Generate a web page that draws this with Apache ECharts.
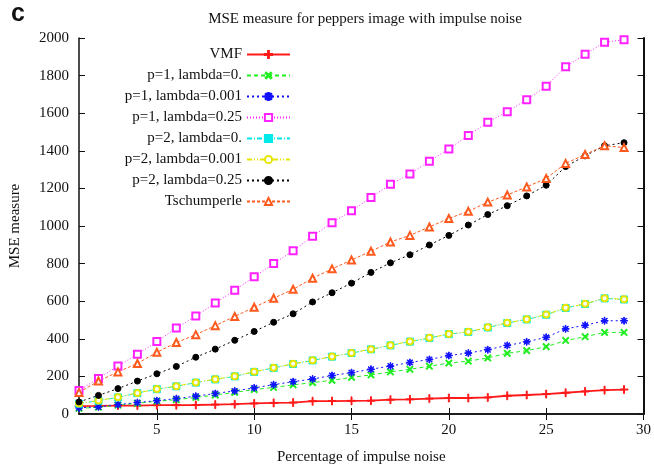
<!DOCTYPE html>
<html>
<head>
<meta charset="utf-8">
<script src="https://cdn.jsdelivr.net/npm/echarts@6/dist/echarts.min.js"></script>
<style>
  html, body { margin: 0; padding: 0; background: #fff; }
  #chart { width: 654px; height: 470px; }
</style>
</head>
<body>
<div id="chart"></div>
<script>
// noise percentage (x)
const noise = [1, 2, 3, 4, 5, 6, 7, 8, 9, 10, 11, 12, 13, 14, 15, 16, 17, 18, 19, 20, 21, 22, 23, 24, 25, 26, 27, 28, 29];
const xTicks = [5, 10, 15, 20, 25, 30];

// MSE values
const vmf = [42, 43, 45, 45, 47, 47, 48, 50, 52, 56, 59, 61, 68, 69, 70, 71, 76, 78, 82, 85, 85, 88, 97, 101, 106, 113, 120, 127, 130];
const p1l0 = [30, 36, 47, 57, 68, 76, 88, 101, 115, 130, 141, 155, 167, 179, 195, 208, 224, 238, 254, 271, 281, 298, 323, 337, 358, 391, 411, 434, 434];
const p1l001 = [33, 38, 50, 61, 71, 82, 95, 109, 123, 139, 156, 172, 186, 205, 220, 238, 255, 274, 290, 311, 324, 342, 365, 384, 408, 453, 472, 496, 496];
const p1l025 = [125, 189, 255, 318, 385, 457, 521, 590, 658, 730, 800, 868, 946, 1017, 1081, 1151, 1222, 1276, 1345, 1410, 1482, 1552, 1608, 1672, 1743, 1847, 1913, 1977, 1991];
const p2l0 = [55, 71, 88, 111, 132, 147, 167, 184, 200, 224, 245, 266, 285, 305, 324, 344, 365, 385, 404, 425, 436, 460, 484, 503, 528, 564, 585, 615, 609];
const p2l001 = [56, 72, 89, 112, 133, 148, 168, 185, 201, 225, 246, 267, 286, 306, 325, 345, 366, 386, 405, 426, 437, 461, 485, 504, 529, 565, 586, 616, 610];
const p2l025 = [64, 99, 135, 175, 214, 253, 302, 345, 392, 439, 488, 533, 596, 645, 696, 753, 804, 847, 899, 950, 1005, 1061, 1108, 1160, 1217, 1316, 1373, 1427, 1443];
const tschumperle = [115, 175, 224, 269, 328, 380, 422, 470, 519, 568, 616, 663, 722, 772, 819, 866, 915, 950, 995, 1040, 1078, 1127, 1165, 1208, 1253, 1333, 1380, 1427, 1417];

const font = 'Liberation Serif';
const plus = 'path://M4.4,0H5.6V4.4H10V5.6H5.6V10H4.4V5.6H0V4.4H4.4Z';
const star = 'path://M4.5,0H5.5V10H4.5Z M0,4.5H10V5.5H0Z M1,1.7L1.7,1L9,8.3L8.3,9Z M1,8.3L8.3,1L9,1.7L1.7,9Z';

function pairs(vals) {
  return vals.map((v, i) => [noise[i], v]);
}

function line(name, vals, color, type, symbol, size, width, rotate) {
  return {
    name: name,
    type: 'line',
    data: pairs(vals),
    symbol: symbol,
    symbolSize: size,
    symbolRotate: rotate || 0,
    showAllSymbol: true,
    animation: false,
    lineStyle: { color: color, width: width || 1, type: type },
    itemStyle: { color: color, borderColor: color, borderWidth: 1 }
  };
}

const chart = echarts.init(document.getElementById('chart'));
chart.setOption({
  backgroundColor: '#fff',
  title: [
    {
      text: 'MSE measure for peppers image with impulse noise',
      left: 360, top: 7, textAlign: 'center',
      textStyle: { fontFamily: font, fontSize: 15, fontWeight: 'normal', color: '#111' }
    },
    {
      text: 'c',
      left: 6, top: -3,
      textStyle: { fontFamily: 'Liberation Sans', fontSize: 25, fontWeight: 'bold', color: '#111' }
    }
  ],
  legend: {
    orient: 'vertical',
    align: 'right',
    right: 363,
    top: 47,
    padding: 0,
    itemWidth: 43,
    itemHeight: 9,
    itemGap: 6,
    textStyle: { fontFamily: font, fontSize: 15, color: '#111' }
  },
  grid: { left: 77, right: 10, top: 38, bottom: 47, show: false },
  xAxis: [
    {
      type: 'value', min: 1, max: 30,
      name: 'Percentage of impulse noise',
      nameLocation: 'middle', nameGap: 36,
      nameTextStyle: { fontFamily: font, fontSize: 15, color: '#111' },
      axisLine: { lineStyle: { color: '#111', width: 1.5 } },
      axisTick: { inside: true, length: 6, customValues: xTicks, lineStyle: { color: '#111' } },
      axisLabel: { customValues: xTicks, fontFamily: font, fontSize: 15, color: '#111', margin: 9 },
      splitLine: { show: false }
    },
    {
      type: 'value', min: 1, max: 30, position: 'top',
      axisLine: { lineStyle: { color: '#111', width: 1.5 } },
      axisTick: { inside: true, length: 6, customValues: xTicks, lineStyle: { color: '#111' } },
      axisLabel: { show: false },
      splitLine: { show: false }
    }
  ],
  yAxis: [
    {
      type: 'value', min: 0, max: 2000, interval: 200,
      name: 'MSE measure',
      nameLocation: 'middle', nameGap: 56,
      nameTextStyle: { fontFamily: font, fontSize: 15, color: '#111' },
      axisLine: { show: true, lineStyle: { color: '#111', width: 1.5 } },
      axisTick: { inside: true, length: 6, lineStyle: { color: '#111' } },
      axisLabel: { fontFamily: font, fontSize: 15, color: '#111', margin: 10, formatter: v => String(v) },
      splitLine: { show: false }
    },
    {
      type: 'value', min: 0, max: 2000, interval: 200, position: 'right',
      axisLine: { show: true, lineStyle: { color: '#111', width: 2 } },
      axisTick: { inside: true, length: 6, lineStyle: { color: '#111' } },
      axisLabel: { show: false },
      splitLine: { show: false }
    }
  ],
  series: [
    line('VMF', vmf, '#ff1a1a', 'solid', plus, 8, 1.8),
    line('p=1, lambda=0.', p1l0, '#22ee22', [4, 3], plus, 8, 1, 45),
    line('p=1, lambda=0.001', p1l001, '#1010ff', [2, 3], star, 7, 1),
    line('p=1, lambda=0.25', p1l025, '#ff22ff', [1, 2], 'emptyRect', 7, 1),
    line('p=2, lambda=0.', p2l0, '#00e8e8', [5, 2, 1, 2], 'rect', 7, 1),
    line('p=2, lambda=0.001', p2l001, '#e6e600', [5, 2, 1, 2, 1, 2], 'emptyCircle', 6, 1),
    line('p=2, lambda=0.25', p2l025, '#000000', [2, 3], 'circle', 6, 1),
    line('Tschumperle', tschumperle, '#ff5a1e', [3, 2], 'emptyTriangle', 7, 1)
  ]
});
</script>
</body>
</html>
